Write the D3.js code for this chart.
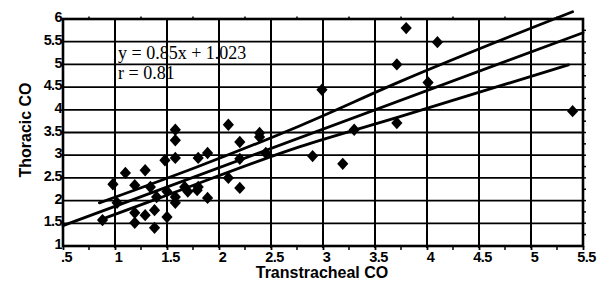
<!DOCTYPE html>
<html><head><meta charset="utf-8">
<script src="https://cdn.jsdelivr.net/npm/d3@7"></script>
<style>body{margin:0;background:#fff}svg{display:block}</style>
</head><body>
<svg id="c" width="608" height="282"></svg>
<script>
// ---- data ----
const xTickValues = [0.5,1,1.5,2,2.5,3,3.5,4,4.5,5,5.5];
const xTickLabels = [".5","1","1.5","2","2.5","3","3.5","4","4.5","5","5.5"];
const yTickValues = [1,1.5,2,2.5,3,3.5,4,4.5,5,5.5,6];
const yTickLabels = ["1","1.5","2","2.5","3","3.5","4","4.5","5","5.5","6"];
const transtrachealCO = [0.88,0.98,1.02,1.10,1.19,1.19,1.19,1.29,1.29,1.34,1.38,1.38,1.40,1.48,1.50,1.50,1.58,1.58,1.58,1.58,1.58,1.67,1.70,1.79,1.80,1.80,1.89,1.89,2.09,2.09,2.20,2.20,2.20,2.39,2.39,2.45,2.90,2.99,3.19,3.30,3.71,3.71,3.80,4.01,4.10,5.40];
const thoracicCO      = [1.57,2.36,1.95,2.61,2.34,1.73,1.51,2.67,1.68,2.30,1.79,1.40,2.08,2.89,1.64,2.20,3.56,3.33,2.94,1.95,2.08,2.30,2.20,2.23,2.94,2.30,3.05,2.06,3.67,2.50,3.29,2.92,2.28,3.49,3.40,3.05,2.98,4.44,2.81,3.56,3.71,5.00,5.80,4.60,5.49,3.97];
const fitLine   = [[0.5,1.448],[5.5,5.698]];
const upperBand = [[0.85,1.95],[1.8,2.75],[2.78,3.65],[3.74,4.62],[5.4,6.16]];
const lowerBand = [[0.85,1.57],[1.43,2.06],[2.78,3.19],[3.74,3.85],[5.36,4.99]];
const equationText = "y = 0.85x + 1.023";
const rText = "r = 0.81";
const xTitle = "Transtracheal CO";
const yTitle = "Thoracic CO";

// ---- drawing ----
const svg = d3.select("#c");
const x = d3.scaleLinear().domain([0.5,5.5]).range([63,583]);
const y = d3.scaleLinear().domain([1,6]).range([246,19]);
const ink = "#000";

// grid
const g = svg.append("g");
g.selectAll(".vg").data(xTickValues.slice(1,-1)).join("line")
  .attr("x1",d=>x(d)).attr("x2",d=>x(d)).attr("y1",y(6)).attr("y2",y(1)+2)
  .attr("stroke",ink).attr("stroke-width",2);
g.selectAll(".hg").data(yTickValues.slice(1,-1)).join("line")
  .attr("x1",x(0.5)).attr("x2",x(5.5)).attr("y1",d=>y(d)).attr("y2",d=>y(d))
  .attr("stroke",ink).attr("stroke-width",1.8);

// minor ticks
const minorX = d3.range(0.75,5.5,0.5);
const minorY = d3.range(1.25,6,0.25);
g.selectAll(".mb").data(minorX).join("line")
  .attr("x1",d=>x(d)).attr("x2",d=>x(d)).attr("y1",y(1)).attr("y2",y(1)+4)
  .attr("stroke",ink).attr("stroke-width",1.5);
g.selectAll(".mt").data(minorX).join("line")
  .attr("x1",d=>x(d)).attr("x2",d=>x(d)).attr("y1",y(6)).attr("y2",y(6)-2.5)
  .attr("stroke",ink).attr("stroke-width",1.5);
g.selectAll(".mr").data(minorY).join("line")
  .attr("x1",x(5.5)).attr("x2",x(5.5)+3).attr("y1",d=>y(d)).attr("y2",d=>y(d))
  .attr("stroke",ink).attr("stroke-width",1.5);

// frame
svg.append("rect").attr("x",x(0.5)).attr("y",y(6)).attr("width",x(5.5)-x(0.5)).attr("height",y(1)-y(6))
  .attr("fill","none").attr("stroke",ink).attr("stroke-width",2.6);

// axes (labels)
const fontTicks = "'Liberation Sans', Arial, sans-serif";
const xa = svg.append("g").attr("transform",`translate(0,${y(1)})`)
  .call(d3.axisBottom(x).tickValues(xTickValues).tickFormat((d,i)=>xTickLabels[i]).tickSize(4).tickPadding(1.5));
xa.select(".domain").remove();
xa.selectAll("line").attr("stroke",ink).attr("stroke-width",1.8);
xa.selectAll("text").attr("font-family",fontTicks).attr("font-weight","bold").attr("font-size",14.5)
  .attr("fill",ink).attr("dx",3).attr("letter-spacing",-0.6);

const ya = svg.append("g").attr("transform",`translate(${x(0.5)},0)`)
  .call(d3.axisLeft(y).tickValues(yTickValues).tickFormat((d,i)=>yTickLabels[i]).tickSize(0).tickPadding(1));
ya.select(".domain").remove();
ya.selectAll("text").attr("font-family",fontTicks).attr("font-weight","bold").attr("font-size",14.5)
  .attr("fill",ink).attr("dy","0.18em").attr("letter-spacing",-0.6);

// regression and bands
const line = d3.line().x(d=>x(d[0])).y(d=>y(d[1])).curve(d3.curveMonotoneX);
[upperBand, lowerBand, fitLine].forEach(arr=>{
  svg.append("path").datum(arr).attr("d",line).attr("fill","none")
    .attr("stroke",ink).attr("stroke-width",2.8).attr("stroke-linecap","round");
});

// points
const pts = transtrachealCO.map((v,i)=>[v,thoracicCO[i]]);
svg.selectAll(".pt").data(pts).join("path")
  .attr("d","M0,-6.2L5.6,0L0,6.2L-5.6,0Z")
  .attr("transform",d=>`translate(${x(d[0])},${y(d[1])})`)
  .attr("fill",ink);

// equation
const serif = "'Liberation Serif','Times New Roman',serif";
svg.append("text").attr("x",118).attr("y",59).text(equationText)
  .attr("font-family",serif).attr("font-size",18).attr("fill",ink);
svg.append("text").attr("x",118).attr("y",79).text(rText)
  .attr("font-family",serif).attr("font-size",18).attr("fill",ink);

// titles
svg.append("text").attr("x",322).attr("y",278).attr("text-anchor","middle").text(xTitle)
  .attr("font-family",fontTicks).attr("font-size",16).attr("font-weight","bold").attr("fill",ink);
svg.append("text").attr("transform","translate(31,130) rotate(-90)").attr("text-anchor","middle").text(yTitle)
  .attr("font-family",fontTicks).attr("font-size",16).attr("font-weight","bold").attr("fill",ink);
</script>
</body></html>
